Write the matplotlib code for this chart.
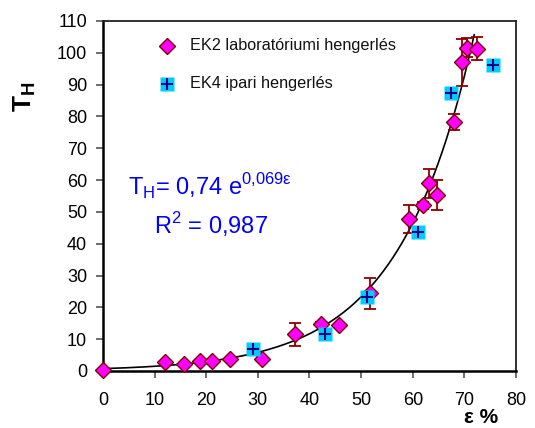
import numpy as np
import matplotlib
matplotlib.use("Agg")
import matplotlib.pyplot as plt

plt.rcParams["font.family"] = ["Liberation Sans", "DejaVu Sans"]

# EK2 laboratory rolling: strain (%), T_H and error
ek2_eps = [0, 12.1, 15.6, 18.7, 21.1, 24.6, 30.8, 37.2, 42.2, 45.7, 51.7,
           59.3, 62.0, 63.2, 64.7, 67.9, 69.5, 70.5, 72.4]
ek2_th = [0.3, 2.7, 2.1, 3.1, 3.1, 3.7, 3.8, 11.5, 14.8, 14.3, 24.4,
          47.8, 52.0, 59.0, 55.2, 78.2, 97.0, 101.5, 101.3]
ek2_err = [0.3, 0.5, 0.5, 0.5, 0.5, 0.5, 0.5, 3.6, 0.5, 0.5, 4.9,
           4.4, 1.0, 4.6, 4.7, 2.5, 7.4, 3.0, 3.5]

# EK4 industrial rolling
ek4_eps = [29.1, 43.0, 51.2, 61.1, 67.4, 75.6]
ek4_th = [6.8, 11.6, 23.2, 43.7, 87.3, 96.0]

# exponential fit T_H = a * exp(b * eps)
fit_a, fit_b = 0.74, 0.069
fit_eps = np.linspace(0, 71.9, 300)

fig = plt.figure(figsize=(5.35, 4.28), dpi=100)
ax = fig.add_axes([0.1925, 0.1332, 0.772, 0.818])

ax.plot(fit_eps, fit_a * np.exp(fit_b * fit_eps), color="black", lw=1.2, zorder=2)

ax.errorbar(ek2_eps, ek2_th, yerr=ek2_err, fmt="none", ecolor="#8B0000",
            elinewidth=1.3, capsize=4, capthick=1.3, zorder=3)
ax.plot(ek2_eps, ek2_th, "D", ms=8.5, mfc="#FF00FF", mec="#800000", mew=1.0,
        ls="none", zorder=4, clip_on=False)

ax.plot(ek4_eps, ek4_th, "s", ms=10, mfc="#00CCFF", mec="none", ls="none", zorder=5)
ax.plot(ek4_eps, ek4_th, "+", ms=8, mew=1.5, color="#000080", ls="none", zorder=6)

# legend entries drawn by hand (square with a plus for EK4)
lx, ly1, ly2 = 12.4, 102.2, 90.3
ax.plot([lx], [ly1], "D", ms=8.5, mfc="#FF00FF", mec="#800000", mew=1.0)
ax.plot([lx], [ly2], "s", ms=10, mfc="#00CCFF", mec="none")
ax.plot([lx], [ly2], "+", ms=8, mew=1.5, color="#000080")
ax.text(16.8, ly1, "EK2 laboratóriumi hengerlés", fontsize=11.7, va="center",
        color="#111111")
ax.text(16.8, ly2, "EK4 ipari hengerlés", fontsize=11.7, va="center",
        color="#111111")

ax.text(4.8, 57.9,
        r"T$_{\mathregular{H}}$= 0,74 e$^{\mathregular{0{,}069\varepsilon}}$",
        color="#0000FF", fontsize=17, va="center")
ax.text(9.9, 46, r"R$^{\mathregular{2}}$ = 0,987", color="#0000FF", fontsize=17,
        va="center")

ax.set_xlim(0, 80)
ax.set_ylim(0, 110)
ax.set_xticks(range(0, 81, 10))
ax.set_yticks(range(0, 111, 10))
ax.tick_params(axis="both", labelsize=13, direction="out", length=5, width=1.2,
               color="#555555")
ax.tick_params(axis="x", pad=10)
ax.tick_params(axis="y", pad=6.5)

for side in ["left", "bottom"]:
    ax.spines[side].set_linewidth(1.8)
    ax.spines[side].set_color("black")
for side in ["top", "right"]:
    ax.spines[side].set_linewidth(1.3)
    ax.spines[side].set_color("#222222")

fig.text(0.047, 0.773, r"T$_{\mathregular{H}}$", rotation=90, fontsize=19,
         fontweight="bold", ha="center", va="center")
fig.text(0.9, 0.003, "ε %", fontsize=15, fontweight="bold", ha="center",
         va="bottom")

fig.savefig("out.png", dpi=100)
